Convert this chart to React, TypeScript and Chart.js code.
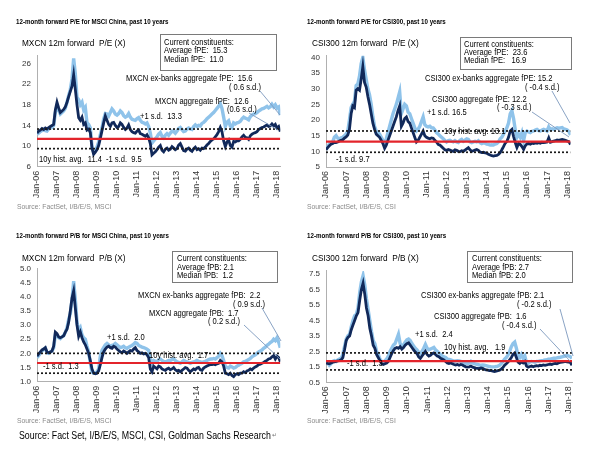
import React, { useEffect, useRef } from "react";
import { Chart, registerables } from "chart.js";
Chart.register(...registerables);

const FONT = '"Liberation Sans", Arial, Helvetica, sans-serif';

const xTickMonths = [0, 12, 24, 36, 48, 60, 72, 84, 96, 108, 120, 132, 144];
const xTickLabels = ["Jan-06", "Jan-07", "Jan-08", "Jan-09", "Jan-10", "Jan-11", "Jan-12", "Jan-13", "Jan-14", "Jan-15", "Jan-16", "Jan-17", "Jan-18"];
const xMax = 146;

// MXCN 12m forward P/E
const peDarkMX = [12.5,12.9,13.1,13.4,13.2,13.5,13.3,13.6,13.8,14.0,
 14.2,17.0,18.5,17.4,16.5,16.8,17.1,17.6,18.5,19.6,
 20.6,21.6,23.8,21.0,18.0,15.5,15.0,15.6,14.2,14.5,
 13.1,13.3,12.6,9.6,8.4,8.8,9.3,10.1,11.5,13.0,
 14.5,15.8,15.0,14.2,13.8,14.5,14.6,14.0,13.6,13.8,
 14.5,14.2,13.6,13.2,13.5,14.1,13.2,12.8,12.6,12.5,
 12.9,13.1,12.4,12.3,12.1,11.9,12.2,11.6,10.5,8.3,
 8.6,8.9,9.3,9.8,10.1,9.2,8.9,9.4,9.6,9.2,
 9.4,9.9,9.6,9.3,9.5,10.2,10.5,9.8,9.1,9.0,
 9.4,9.6,9.2,9.0,9.5,9.8,9.3,9.5,9.2,9.6,
 9.5,9.8,10.2,10.5,10.9,11.2,11.4,11.8,12.2,12.8,
 13.6,12.8,11.0,9.9,10.8,11.2,10.1,9.8,10.9,10.8,
 11.0,11.0,11.3,11.8,12.1,11.7,11.6,11.3,12.0,12.3,
 12.5,12.6,12.8,13.2,13.4,13.6,13.7,13.9,14.1,13.8,
 13.9,14.3,13.9,14.2,13.5,13.8,12.8];
const peLightMX = [12.3,12.5,12.8,13.0,13.2,13.0,12.9,13.3,13.5,13.6,
 14.0,16.5,17.8,17.0,16.2,16.5,16.8,17.3,18.5,19.8,
 21.0,23.0,27.0,24.0,19.5,19.0,18.0,18.5,17.0,17.5,
 14.5,14.2,13.5,10.0,8.8,9.2,9.8,10.8,12.2,13.5,
 15.2,16.3,16.2,15.8,16.5,17.2,16.8,16.2,16.0,16.3,
 16.8,16.5,15.9,15.6,15.8,16.3,15.6,15.2,15.1,15.0,
 15.3,15.5,15.0,14.6,14.5,14.3,14.5,13.8,12.5,10.6,
 11.0,11.4,11.8,12.3,12.6,11.9,11.6,12.1,12.4,12.1,
 12.5,12.9,12.8,12.5,12.9,13.4,13.6,13.2,12.8,12.9,
 13.3,13.5,13.3,13.2,13.8,14.1,13.8,14.0,13.9,14.4,
 14.6,14.9,15.3,15.6,15.9,16.2,16.5,16.9,17.3,17.7,
 18.2,17.3,15.6,13.8,14.6,14.9,13.9,13.6,14.5,14.3,
 14.5,14.6,14.8,15.3,15.6,15.4,15.3,15.1,15.7,16.0,
 16.2,16.3,16.5,16.8,17.0,17.2,17.3,17.5,17.7,17.4,
 17.6,18.1,17.6,18.0,17.4,17.6,16.0];

// CSI300 12m forward P/E
const peDarkCSI = [10.5,11.2,11.8,12.3,12.5,12.9,12.8,13.0,13.3,13.5,
 13.7,14.2,14.6,15.2,17.0,22.0,24.5,24.0,29.5,30.0,
 29.5,33.0,37.0,32.0,30.5,27.5,25.0,22.0,19.0,17.0,
 15.5,15.0,14.5,13.5,12.5,11.0,12.0,13.5,15.0,16.5,
 18.0,19.5,21.0,23.0,24.5,18.0,19.0,20.5,21.0,19.5,
 19.0,17.5,16.0,14.5,13.0,13.5,14.5,15.5,16.5,15.0,
 14.5,14.2,14.0,14.3,14.2,13.5,13.0,12.2,12.0,11.5,
 11.0,10.5,10.3,10.6,10.4,10.2,10.0,10.5,10.3,10.0,
 9.9,10.2,10.0,10.4,10.8,11.2,10.5,10.0,10.2,10.4,
 10.6,10.3,9.8,9.6,9.7,9.5,9.4,9.1,8.8,8.6,
 8.5,8.6,8.7,9.0,9.6,10.5,11.5,12.6,13.2,14.5,
 16.5,17.0,14.8,12.8,11.2,12.5,12.2,11.5,10.6,11.8,
 12.4,12.5,12.3,12.6,12.5,12.7,12.6,12.8,12.6,12.9,
 12.8,12.9,13.0,14.3,12.9,13.1,13.3,13.4,13.6,13.5,
 13.7,13.8,13.7,13.5,13.3,13.1,12.2];
const peLightCSI = [10.5,11.5,12.3,12.8,13.0,14.5,15.0,14.2,14.0,14.3,
 14.5,15.0,15.5,16.5,20.0,24.0,25.0,26.0,31.0,31.5,
 34.0,38.0,40.0,36.0,33.0,30.0,28.0,25.0,21.0,18.0,
 16.5,16.0,15.5,14.5,13.5,12.5,14.0,16.0,18.0,20.0,
 22.0,23.5,25.0,27.0,29.0,22.0,23.5,25.0,24.5,22.5,
 22.0,20.5,19.0,17.5,16.5,17.0,18.0,19.5,21.0,18.5,
 18.0,17.8,18.0,17.5,17.5,16.8,16.0,15.5,15.0,14.5,
 14.0,13.5,13.0,13.4,13.5,13.2,13.0,13.4,13.0,12.8,
 13.5,13.8,13.2,13.6,14.0,13.8,13.0,12.8,13.0,13.2,
 13.0,13.4,12.8,12.5,12.7,12.6,12.3,12.2,12.0,12.1,
 12.0,12.3,12.5,13.0,14.0,14.5,15.5,16.5,17.5,19.0,
 22.0,23.0,20.5,17.0,14.5,15.5,14.5,16.0,13.5,16.0,
 16.5,16.2,16.0,16.4,16.5,16.8,17.0,16.6,16.5,16.8,
 17.0,16.8,16.5,17.8,17.0,17.2,17.0,17.3,17.5,17.4,
 17.5,17.6,17.2,17.0,16.8,16.3,15.2];

// MXCN 12m forward P/B
const pbDarkMX = [1.90,1.98,2.05,2.12,2.15,2.20,2.05,2.02,2.05,2.08,
 2.25,2.75,2.70,2.58,2.55,2.58,2.62,2.75,2.85,3.10,
 3.50,3.95,4.20,3.60,3.00,2.60,2.75,2.55,2.40,2.30,
 2.15,2.00,1.75,1.45,1.30,1.28,1.30,1.38,1.60,1.85,
 2.05,2.15,2.22,2.25,2.20,2.18,2.25,2.22,2.15,2.10,
 2.05,2.02,2.08,2.05,2.00,2.05,2.10,2.08,2.15,2.20,
 2.10,2.05,2.00,2.02,1.98,2.00,1.95,1.85,1.45,1.35,
 1.55,1.50,1.45,1.55,1.52,1.45,1.42,1.40,1.45,1.48,
 1.42,1.45,1.50,1.42,1.38,1.40,1.35,1.40,1.45,1.50,
 1.48,1.40,1.35,1.40,1.45,1.42,1.48,1.50,1.42,1.40,
 1.48,1.52,1.55,1.58,1.60,1.60,1.62,1.60,1.63,1.65,
 1.75,1.70,1.55,1.30,1.28,1.25,1.30,1.22,1.18,1.25,
 1.28,1.25,1.30,1.30,1.35,1.32,1.38,1.40,1.45,1.42,
 1.48,1.52,1.55,1.60,1.62,1.65,1.68,1.72,1.75,1.80,
 1.82,1.88,1.92,1.80,1.90,1.85,1.70];
const pbLightMX = [1.85,1.92,2.00,2.08,2.15,2.18,2.02,2.00,2.05,2.08,
 2.20,2.65,2.62,2.55,2.52,2.58,2.62,2.75,2.90,3.20,
 3.40,3.90,4.55,3.90,3.10,2.80,2.90,2.65,2.55,2.50,
 2.25,2.05,1.65,1.35,1.30,1.30,1.35,1.45,1.90,2.10,
 2.20,2.30,2.35,2.30,2.25,2.28,2.30,2.35,2.30,2.25,
 2.20,2.22,2.25,2.20,2.18,2.22,2.25,2.28,2.32,2.38,
 2.35,2.28,2.25,2.22,2.20,2.18,2.15,2.10,1.80,1.65,
 1.75,1.72,1.70,1.78,1.80,1.75,1.72,1.70,1.72,1.75,
 1.75,1.78,1.80,1.75,1.70,1.68,1.65,1.70,1.75,1.72,
 1.70,1.68,1.65,1.68,1.70,1.72,1.75,1.72,1.70,1.68,
 1.70,1.72,1.75,1.78,1.80,1.80,1.82,1.80,1.85,1.90,
 2.00,1.92,1.75,1.55,1.50,1.48,1.55,1.52,1.48,1.50,
 1.55,1.58,1.62,1.65,1.70,1.72,1.75,1.78,1.82,1.88,
 1.92,1.95,2.00,2.05,2.08,2.12,2.18,2.22,2.28,2.32,
 2.38,2.42,2.50,2.45,2.55,2.40,2.20];

// CSI300 12m forward P/B
const pbDarkCSI = [1.75,1.72,1.70,1.75,1.80,1.82,1.85,1.88,1.90,1.95,
 2.10,2.60,3.20,3.40,3.50,3.90,4.20,4.50,4.80,5.00,
 5.80,6.50,6.90,6.20,5.30,4.80,4.00,3.50,2.90,2.70,
 2.30,2.10,1.90,1.70,1.65,1.70,1.75,1.85,2.10,2.35,
 2.55,2.70,2.75,2.70,2.80,2.65,2.75,2.90,3.00,3.05,
 2.90,2.75,2.60,2.45,2.35,2.15,2.05,2.20,2.35,2.50,
 2.30,2.20,2.25,2.35,2.40,2.30,2.20,2.15,2.05,2.00,
 1.95,1.85,1.75,1.72,1.75,1.70,1.65,1.62,1.65,1.60,
 1.65,1.62,1.55,1.50,1.48,1.50,1.55,1.48,1.45,1.42,
 1.40,1.38,1.42,1.40,1.35,1.30,1.28,1.25,1.25,1.22,
 1.20,1.22,1.25,1.28,1.35,1.45,1.60,1.70,1.80,1.95,
 2.10,2.30,2.40,2.10,1.80,1.72,1.82,1.75,1.85,1.55,
 1.48,1.52,1.55,1.50,1.55,1.58,1.55,1.60,1.58,1.62,
 1.60,1.62,1.65,1.68,1.65,1.70,1.72,1.70,1.75,1.78,
 1.80,1.82,1.85,1.82,1.80,1.78,1.60];
const pbLightCSI = [1.85,1.75,1.60,1.70,1.85,1.90,1.85,1.95,2.00,2.05,
 2.30,2.80,3.30,3.50,3.60,4.10,4.50,4.80,4.90,5.30,
 6.30,7.00,7.40,6.80,5.90,5.20,4.50,3.80,3.20,3.00,
 2.50,2.30,2.00,1.85,1.80,1.90,2.00,2.20,2.50,2.70,
 2.90,3.00,3.30,3.60,3.00,2.85,2.90,3.10,3.25,3.30,
 3.20,3.00,2.85,2.70,2.60,2.45,2.35,2.50,2.70,2.95,
 2.70,2.60,2.65,2.70,2.75,2.60,2.50,2.40,2.30,2.20,
 2.15,2.10,2.00,1.98,1.95,1.90,1.85,1.88,1.90,1.88,
 1.85,1.80,1.75,1.72,1.70,1.75,1.85,1.75,1.70,1.68,
 1.65,1.62,1.60,1.62,1.60,1.58,1.55,1.52,1.50,1.50,
 1.50,1.52,1.55,1.60,1.70,1.85,2.00,2.10,2.25,2.50,
 2.80,3.00,3.10,2.70,2.20,2.10,2.30,2.05,2.20,1.75,
 1.72,1.82,1.85,1.82,1.80,1.85,1.85,1.88,1.90,1.92,
 1.95,1.95,2.00,2.00,2.02,2.05,2.05,2.08,2.10,2.12,
 2.15,2.18,2.20,2.25,2.20,2.15,2.05];

// Reference levels: [+1 s.d., 10y avg, -1 s.d.]
const refPeMX = [13.3, 11.4, 9.5];
const refPeCSI = [16.5, 13.1, 9.7];
const refPbMX = [2.0, 1.66, 1.3];
const refPbCSI = [2.4, 1.87, 1.3];

const yTicksPeMX = [6, 10, 14, 18, 22, 26];
const yTicksPeCSI = [5, 10, 15, 20, 25, 30, 35, 40];
const yTicksPbMX = [1.0, 1.5, 2.0, 2.5, 3.0, 3.5, 4.0, 4.5, 5.0];
const yTicksPbCSI = [0.5, 1.5, 2.5, 3.5, 4.5, 5.5, 6.5, 7.5];

const DARK = "#11295a";
const LIGHT = "#8fc3ea";
const RED = "#e3242b";

type Panel = {
  left: number; top: number; width: number; height: number;
  plotLeft: number; plotRight: number; plotTop: number; plotBottom: number;
  yMin: number; yMax: number; yTicks: number[]; dec: number;
  dark: number[]; light: number[]; refs: number[];
};

const panels: Panel[] = [
  { left: 0, top: 45, width: 297, height: 165, plotLeft: 37, plotRight: 280.3, plotTop: 54.9, plotBottom: 166.7,
    yMin: 6, yMax: 27.5, yTicks: yTicksPeMX, dec: 0, dark: peDarkMX, light: peLightMX, refs: refPeMX },
  { left: 297, top: 45, width: 297, height: 165, plotLeft: 326, plotRight: 570.5, plotTop: 52.9, plotBottom: 167,
    yMin: 5, yMax: 40.5, yTicks: yTicksPeCSI, dec: 0, dark: peDarkCSI, light: peLightCSI, refs: refPeCSI },
  { left: 0, top: 255, width: 297, height: 165, plotLeft: 37, plotRight: 280.3, plotTop: 268.3, plotBottom: 381.7,
    yMin: 1, yMax: 5, yTicks: yTicksPbMX, dec: 1, dark: pbDarkMX, light: pbLightMX, refs: refPbMX },
  { left: 297, top: 255, width: 297, height: 165, plotLeft: 326, plotRight: 572, plotTop: 270.9, plotBottom: 382.3,
    yMin: 0.5, yMax: 7.7, yTicks: yTicksPbCSI, dec: 1, dark: pbDarkCSI, light: pbLightCSI, refs: refPbCSI },
];

function PanelChart({ p }: { p: Panel }) {
  const ref = useRef<HTMLCanvasElement | null>(null);
  useEffect(() => {
    if (!ref.current) return;
    const labels = p.dark.map((_, i) => i);
    const flat = (v: number) => [{ x: 0, y: v }, { x: xMax, y: v }];
    const chart = new Chart(ref.current, {
      type: "line",
      data: {
        labels,
        datasets: [
          { data: flat(p.refs[0]) as any, borderColor: "#1a1a1a", borderWidth: 1.7, borderDash: [2, 2], pointRadius: 0 },
          { data: flat(p.refs[2]) as any, borderColor: "#1a1a1a", borderWidth: 1.7, borderDash: [2, 2], pointRadius: 0 },
          { data: flat(p.refs[1]) as any, borderColor: RED, borderWidth: 2.2, pointRadius: 0 },
          { data: p.dark, borderColor: DARK, borderWidth: 2.8, pointRadius: 0, tension: 0 },
          { data: p.light, borderColor: LIGHT, borderWidth: 3.4, pointRadius: 0, tension: 0 },
        ],
      },
      options: {
        animation: false,
        responsive: false,
        maintainAspectRatio: false,
        layout: { padding: { left: 0, top: p.plotTop - p.top, right: p.left + p.width - p.plotRight, bottom: 0 } },
        plugins: { legend: { display: false }, tooltip: { enabled: false }, title: { display: false } },
        elements: { point: { radius: 0 } },
        scales: {
          x: {
            type: "linear", min: 0, max: xMax,
            afterFit: (s: any) => { s.height = p.top + p.height - p.plotBottom; },
            afterBuildTicks: (s: any) => { s.ticks = xTickMonths.map((v) => ({ value: v })); },
            ticks: {
              autoSkip: false, maxRotation: 90, minRotation: 90, padding: 4,
              font: { family: FONT, size: 9 }, color: "#333",
              callback: (v: any) => { const i = xTickMonths.indexOf(Number(v)); return i >= 0 ? xTickLabels[i] : ""; },
            },
            grid: { display: true, drawOnChartArea: false, drawTicks: false, color: "#b0b0b0" },
            border: { display: true, color: "#b0b0b0" },
          },
          y: {
            type: "linear", min: p.yMin, max: p.yMax,
            afterFit: (s: any) => { s.width = p.plotLeft - p.left; },
            afterBuildTicks: (s: any) => { s.ticks = p.yTicks.map((v) => ({ value: v })); },
            ticks: {
              padding: 6, font: { family: FONT, size: 8 }, color: "#333",
              callback: (v: any) => Number(v).toFixed(p.dec),
            },
            grid: { display: true, drawOnChartArea: false, drawTicks: false, color: "#b0b0b0" },
            border: { display: true, color: "#b0b0b0" },
          },
        },
      } as any,
    });
    return () => chart.destroy();
  }, [p]);
  return (
    <canvas ref={ref} width={p.width} height={p.height}
      style={{ position: "absolute", left: p.left, top: p.top, width: p.width, height: p.height }} />
  );
}

type Txt = { t: string; x: number; y: number; s: number; b?: boolean; c?: string; k?: number };

const ANN = 8.8;
const texts: Txt[] = [
  // panel 1
  { t: "12-month forward P/E for MSCI China, past 10 years", x: 16, y: 22, s: 7.2, b: true },
  { t: "MXCN 12m forward  P/E (X)", x: 22, y: 43, s: 9.6 },
  { t: "Current constituents:", x: 164, y: 42.7, s: ANN },
  { t: "Average fPE:  15.3", x: 164, y: 51, s: ANN },
  { t: "Median fPE:  11.0", x: 164, y: 59.3, s: ANN },
  { t: "MXCN ex-banks aggregate fPE:  15.6", x: 126, y: 79, s: ANN },
  { t: "( 0.6 s.d.)", x: 229, y: 88, s: ANN },
  { t: "MXCN aggregate fPE:  12.6", x: 155, y: 102, s: ANN },
  { t: "(0.6 s.d.)", x: 227, y: 110, s: ANN },
  { t: "+1 s.d.  13.3", x: 140, y: 117, s: ANN },
  { t: "10y hist. avg.  11.4", x: 39, y: 160, s: ANN },
  { t: "-1 s.d.  9.5", x: 106, y: 160, s: ANN },
  { t: "Source: FactSet, I/B/E/S, MSCI", x: 17, y: 208, s: 6.8, c: "#8a8a8a", k: 1 },
  // panel 2
  { t: "12-month forward P/E for CSI300, past 10 years", x: 307, y: 22, s: 7.2, b: true },
  { t: "CSI300 12m forward  P/E (X)", x: 312, y: 43, s: 9.6 },
  { t: "Current constituents:", x: 464, y: 44.3, s: ANN },
  { t: "Average fPE:  23.6", x: 464, y: 52.7, s: ANN },
  { t: "Median fPE:   16.9", x: 464, y: 61, s: ANN },
  { t: "CSI300 ex-banks aggregate fPE: 15.2", x: 425, y: 79, s: ANN },
  { t: "( -0.4 s.d.)", x: 525, y: 88, s: ANN },
  { t: "CSI300 aggregate fPE: 12.2", x: 432, y: 99.3, s: ANN },
  { t: "( -0.3 s.d.)", x: 497, y: 108, s: ANN },
  { t: "+1 s.d. 16.5", x: 427, y: 113, s: ANN },
  { t: "10y hist. avg. 13.1", x: 444, y: 132, s: ANN },
  { t: "-1 s.d. 9.7", x: 336, y: 160, s: ANN },
  { t: "Source: FactSet, I/B/E/S, CSI", x: 307, y: 208, s: 6.8, c: "#8a8a8a", k: 1 },
  // panel 3
  { t: "12-month forward P/B for MSCI China, past 10 years", x: 16, y: 236, s: 7.2, b: true },
  { t: "MXCN 12m forward  P/B (X)", x: 22, y: 257.7, s: 9.6 },
  { t: "Current constituents:", x: 177, y: 259, s: ANN },
  { t: "Average fPB: 2.1", x: 177, y: 267.3, s: ANN },
  { t: "Median fPB:  1.2", x: 177, y: 275.7, s: ANN },
  { t: "MXCN ex-banks aggregate fPB:  2.2", x: 138, y: 296, s: ANN },
  { t: "( 0.9 s.d.)", x: 233, y: 304.3, s: ANN },
  { t: "MXCN aggregate fPB:  1.7", x: 149, y: 313.3, s: ANN },
  { t: "( 0.2 s.d.)", x: 208, y: 321.7, s: ANN },
  { t: "+1 s.d.  2.0", x: 107, y: 337.3, s: ANN },
  { t: "10y hist. avg.  1.7", x: 149, y: 355.7, s: ANN },
  { t: "-1 s.d.  1.3", x: 43, y: 366.7, s: ANN },
  { t: "Source: FactSet, I/B/E/S, MSCI", x: 17, y: 421.7, s: 6.8, c: "#8a8a8a", k: 1 },
  { t: "Source: Fact Set, I/B/E/S, MSCI, CSI, Goldman Sachs Research", x: 19, y: 436.7, s: 10, k: 0.88 },
  // panel 4
  { t: "12-month forward P/B for CSI300, past 10 years", x: 307, y: 236, s: 7.2, b: true },
  { t: "CSI300 12m forward  P/B (X)", x: 312, y: 257.7, s: 9.6 },
  { t: "Current constituents:", x: 472, y: 259, s: ANN },
  { t: "Average fPB: 2.7", x: 472, y: 267.3, s: ANN },
  { t: "Median fPB: 2.0", x: 472, y: 275.7, s: ANN },
  { t: "CSI300 ex-banks aggregate fPB: 2.1", x: 421, y: 296, s: ANN },
  { t: "( -0.2 s.d.)", x: 517, y: 305, s: ANN },
  { t: "CSI300 aggregate fPB:  1.6", x: 434, y: 316.7, s: ANN },
  { t: "( -0.4 s.d.)", x: 502, y: 326, s: ANN },
  { t: "+1 s.d.  2.4", x: 415, y: 335, s: ANN },
  { t: "10y hist. avg.   1.9", x: 444, y: 347.7, s: ANN },
  { t: "-1 s.d.  1.3", x: 347, y: 364, s: ANN },
  { t: "Source: FactSet, I/B/E/S, CSI", x: 307, y: 421.7, s: 6.8, c: "#8a8a8a", k: 1 },
];

const boxes = [
  { x: 160, y: 34, w: 117, h: 37 },
  { x: 460, y: 37, w: 112, h: 33 },
  { x: 172, y: 251, w: 106, h: 32 },
  { x: 467, y: 251, w: 106, h: 32 },
];

const leaders = [
  [260, 91, 280, 115], [249, 113, 278, 130],
  [552, 91, 570, 123], [532, 112, 569, 137],
  [262, 308, 281, 341], [244, 325, 280, 359],
  [560, 309, 573, 356], [540, 329, 570, 361],
];

export default function App() {
  return (
    <div style={{ position: "absolute", left: 0, top: 0, width: 594, height: 456, background: "#fff", overflow: "hidden", fontFamily: FONT }}>
      {panels.map((p, i) => <PanelChart key={i} p={p} />)}
      {boxes.map((b, i) => (
        <div key={"b" + i} style={{ position: "absolute", left: b.x, top: b.y, width: b.w, height: b.h, border: "1px solid #7a7a7a", boxSizing: "border-box" }} />
      ))}
      <svg width={594} height={456} style={{ position: "absolute", left: 0, top: 0 }}>
        {leaders.map((l, i) => (
          <line key={i} x1={l[0]} y1={l[1]} x2={l[2]} y2={l[3]} stroke="#7d98bd" strokeWidth={0.9} />
        ))}
      </svg>
      {texts.map((t, i) => (
        <div key={"t" + i} style={{
          position: "absolute", left: t.x, top: t.y - t.s * 0.53, fontSize: t.s, lineHeight: 1,
          fontWeight: t.b ? "bold" : "normal", color: t.c || "#000", whiteSpace: "pre",
          transform: `scaleX(${t.k ?? 0.86})`, transformOrigin: "0 0", fontFamily: FONT,
        }}>{t.t}</div>
      ))}
      <div style={{ position: "absolute", left: 272, top: 432, fontSize: 6, color: "#777", lineHeight: 1, fontFamily: "DejaVu Sans" }}>↵</div>
    </div>
  );
}
